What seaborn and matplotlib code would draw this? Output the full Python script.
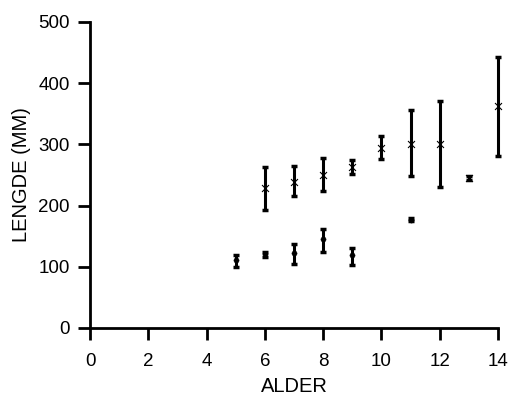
import matplotlib
matplotlib.use('Agg')
import matplotlib.pyplot as plt
import seaborn as sns
import pandas as pd

# upper group (x markers)
age_a = [6, 7, 8, 9, 10, 11, 12, 13, 14]
len_a = [228, 239, 250, 263, 294, 301, 301, 245, 362]
lo_a = [193, 215, 224, 251, 276, 248, 230, 242, 281]
hi_a = [263, 265, 277, 274, 313, 356, 371, 248, 443]

# lower group (dots)
age_b = [5, 6, 7, 8, 9, 11]
len_b = [111, 121, 122, 146, 119, 177]
lo_b = [100, 116, 104, 125, 103, 175]
hi_b = [120, 125, 137, 162, 130, 179]

df_a = pd.DataFrame({'alder': age_a, 'lengde': len_a, 'lo': lo_a, 'hi': hi_a})
df_b = pd.DataFrame({'alder': age_b, 'lengde': len_b, 'lo': lo_b, 'hi': hi_b})

sns.set_style('ticks')
plt.rcParams['font.family'] = ['Liberation Sans', 'DejaVu Sans']
plt.rcParams['text.color'] = 'black'
plt.rcParams['axes.labelcolor'] = 'black'

fig, ax = plt.subplots(figsize=(5.1, 3.99), dpi=100)
fig.subplots_adjust(left=90/510, right=498/510, top=1-22/399, bottom=1-328/399)

for d in [df_a, df_b]:
    eb = ax.errorbar(d['alder'], d['lengde'],
                     yerr=[d['lengde'] - d['lo'], d['hi'] - d['lengde']],
                     fmt='none', ecolor='black', elinewidth=2.2, capsize=2, capthick=2.5)
    for art in eb.lines[1] + eb.lines[2]:
        art.set_clip_on(False)

sns.scatterplot(data=df_a, x='alder', y='lengde', marker='x', color='black',
                s=25, linewidth=0.8, ax=ax, zorder=3)
sns.scatterplot(data=df_b, x='alder', y='lengde', marker='o', color='black',
                s=14, edgecolor='black', ax=ax, zorder=3)

ax.set_xlim(0, 14)
ax.set_ylim(0, 500)
ax.set_xticks(range(0, 15, 2))
ax.set_yticks(range(0, 501, 100))
ax.set_xlabel('ALDER', fontsize=14.5, labelpad=5)
ax.set_ylabel('LENGDE (MM)', fontsize=14.5, labelpad=5)
ax.tick_params(axis='both', labelsize=13.5, width=2, length=8.5, color='black', labelcolor='black')
ax.tick_params(axis='x', pad=9.5)
ax.tick_params(axis='y', pad=6)
for side in ['left', 'bottom']:
    ax.spines[side].set_linewidth(2)
    ax.spines[side].set_color('black')
sns.despine(ax=ax)
for c in ax.collections:
    c.set_clip_on(False)

fig.savefig('out.png', dpi=100)
